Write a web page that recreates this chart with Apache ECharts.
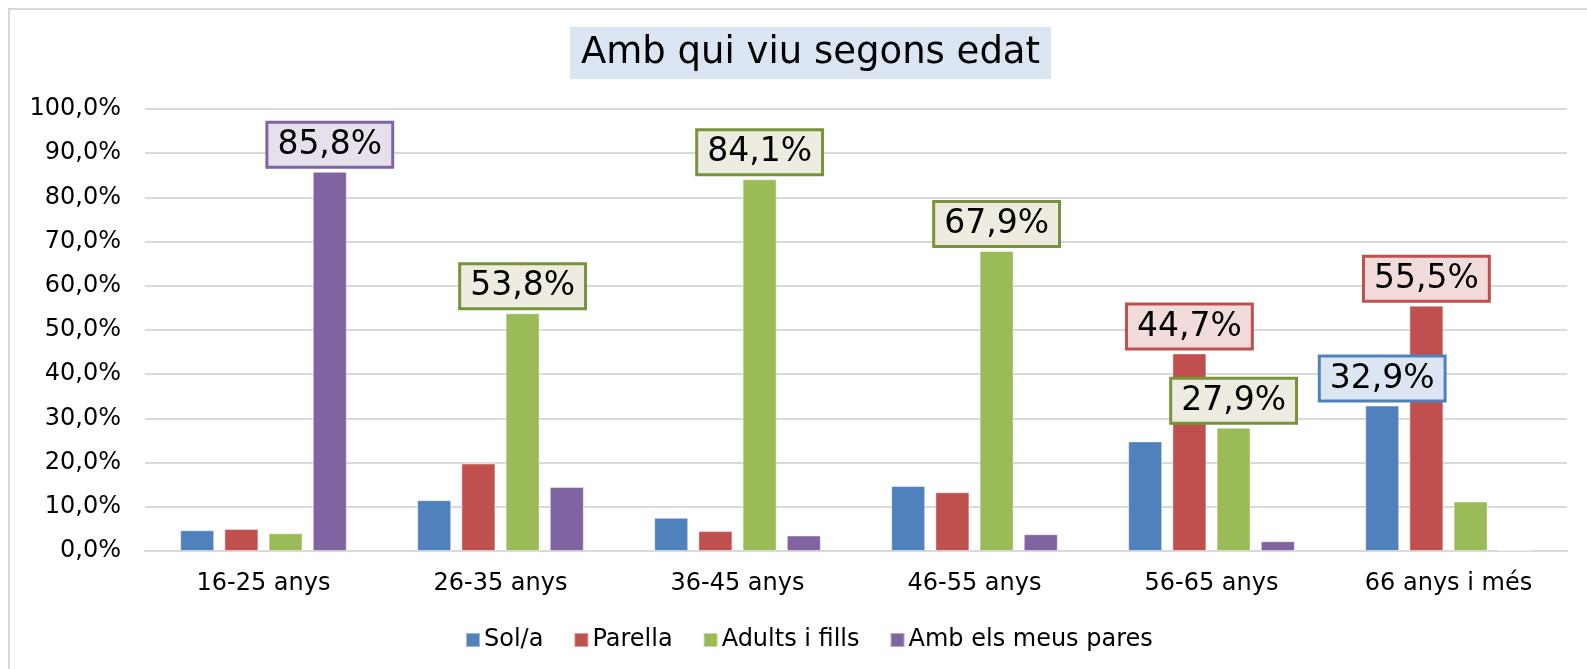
<!DOCTYPE html>
<html>
<head>
<meta charset="utf-8">
<title>Amb qui viu segons edat</title>
<script src="https://cdn.jsdelivr.net/npm/echarts@6/dist/echarts.min.js"></script>
<style>
  html, body { margin: 0; padding: 0; background: #fff; }
  #chart { width: 1587px; height: 669px; }
</style>
</head>
<body>
<div id="chart"></div>
<script>
// categories (age groups)
const categories = ['16-25 anys', '26-35 anys', '36-45 anys', '46-55 anys', '56-65 anys', '66 anys i més']
const seriesNames = ['Sol/a', 'Parella', 'Adults i fills', 'Amb els meus pares']

// values in %
const solA = [4.7, 11.5, 7.5, 14.7, 24.8, 32.9]
const parella = [5.0, 19.8, 4.5, 13.3, 44.7, 55.5]
const adultsFills = [4.0, 53.8, 84.1, 67.9, 27.9, 11.2]
const ambPares = [85.8, 14.5, 3.5, 3.8, 2.2, 0.2]

// which points carry a value label (category indexes per series)
const labelledSolA = [5]
const labelledParella = [4, 5]
const labelledAdultsFills = [1, 2, 3, 4]
const labelledAmbPares = [0]

const colors = ['#4f81bd', '#c0504d', '#9bbb59', '#8064a2']
const labelBorders = ['#4f81bd', '#c0504d', '#77933c', '#8064a2']
const labelBgs = ['#dce6f2', '#f2dcdb', '#eeece1', '#e6e0ec']

const font = 'DejaVu Sans'

function fmt(v) {
  return v.toFixed(1).replace('.', ',') + '%'
}

// build one bar series, labels only on the chosen points
function makeSeries(idx, values, labelled) {
  return {
    name: seriesNames[idx],
    type: 'bar',
    barWidth: 34,
    barGap: '30%',
    itemStyle: { color: colors[idx], borderColor: 'rgba(255,255,255,0.45)', borderWidth: 1 },
    data: values.map((v, i) => ({
      value: v,
      label: {
        show: labelled.indexOf(i) !== -1,
        position: 'top',
        distance: 6,
        formatter: p => fmt(p.value),
        fontFamily: font,
        fontSize: 33,
        lineHeight: 41,
        color: '#000',
        backgroundColor: labelBgs[idx],
        borderColor: labelBorders[idx],
        borderWidth: 3,
        padding: [1, 9, 0, 9]
      }
    }))
  }
}

let myChart = echarts.init(document.getElementById('chart'))
let option = {
  backgroundColor: '#fff',
  animation: false,
  title: {
    text: 'Amb qui viu segons edat',
    left: 570,
    top: 27,
    backgroundColor: '#dce6f2',
    padding: [8, 11, 7, 11],
    textStyle: {
      fontFamily: font,
      fontSize: 37,
      fontWeight: 'normal',
      color: '#000'
    }
  },
  // outer chart frame
  graphic: [{
    type: 'rect',
    shape: { x: 9, y: 9, width: 1600, height: 700 },
    style: { fill: 'none', stroke: '#d9d9d9', lineWidth: 2 },
    silent: true
  }],
  legend: {
    top: 623,
    left: 460,
    itemWidth: 14,
    itemHeight: 14,
    itemGap: 30,
    icon: 'rect',
    textStyle: { fontFamily: font, fontSize: 24, color: '#000', padding: [0, 0, 0, -1] },
    data: seriesNames
  },
  grid: {
    left: 145,
    right: 20,
    top: 109,
    bottom: 118
  },
  xAxis: {
    type: 'category',
    data: categories,
    axisTick: { show: false },
    axisLine: { lineStyle: { color: '#d9d9d9', width: 2 } },
    axisLabel: {
      margin: 21,
      fontFamily: font,
      fontSize: 24,
      color: '#000'
    }
  },
  yAxis: {
    type: 'value',
    min: 0,
    max: 100,
    interval: 10,
    axisLine: { show: false },
    axisTick: { show: false },
    splitLine: { lineStyle: { color: '#d9d9d9', width: 2 } },
    axisLabel: {
      margin: 24,
      fontFamily: font,
      fontSize: 24,
      color: '#000',
      formatter: v => fmt(v)
    }
  },
  series: [
    makeSeries(0, solA, labelledSolA),
    makeSeries(1, parella, labelledParella),
    makeSeries(2, adultsFills, labelledAdultsFills),
    makeSeries(3, ambPares, labelledAmbPares)
  ]
}
myChart.setOption(option)
window.addEventListener('resize', function () {
  myChart.resize()
})
</script>
</body>
</html>
